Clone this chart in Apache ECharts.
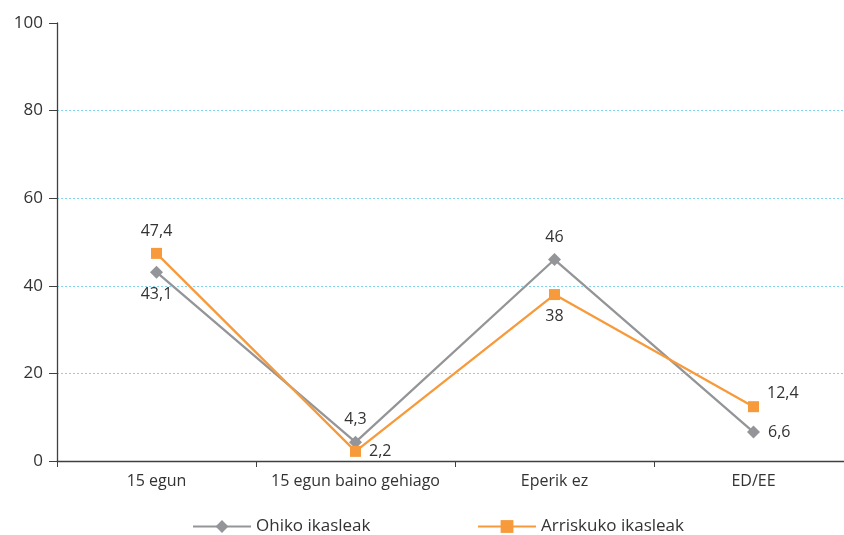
<!DOCTYPE html>
<html>
<head>
<meta charset="utf-8">
<script src="https://cdn.jsdelivr.net/npm/echarts@6/dist/echarts.min.js"></script>
<style>
html,body{margin:0;padding:0;background:#fff;overflow:hidden;}
#chart{width:856px;height:535px;}
</style>
</head>
<body>
<div id="chart"></div>
<script>
// kategoriak eta balioak
var categories = ['15 egun', '15 egun baino gehiago', 'Eperik ez', 'ED/EE'];
var ohikoData = [43.1, 4.3, 46, 6.6];
var arriskuData = [47.4, 2.2, 38, 12.4];
var ohikoPos = ['bottom', 'top', 'top', 'right'];
var arriskuPos = ['top', 'right', 'bottom', 'right'];
var yTicks = [0, 20, 40, 60, 80, 100];

var font = 'Open Sans';
function comma(p){ return String(p.value).replace('.', ','); }

function build(vals, pos, extra){
  return vals.map(function(v, i){
    var lbl = {position: pos[i]};
    if (extra && extra[i]) lbl.offset = extra[i];
    return {value: v, label: lbl};
  });
}

var myChart = echarts.init(document.getElementById('chart'));
myChart.setOption({
  animation: false,
  color: ['#939598', '#f79a3b'],
  textStyle: {fontFamily: font},
  grid: {left: 57, right: 3, top: 23, height: 438, containLabel: false},
  legend: [{
    data: ['Ohiko ikasleak'],
    left: 187, top: 513,
    itemWidth: 58, itemHeight: 16,
    textStyle: {fontFamily: font, fontSize: 17, color: '#333'}
  }, {
    data: ['Arriskuko ikasleak'],
    left: 472, top: 513,
    itemWidth: 58, itemHeight: 16,
    textStyle: {fontFamily: font, fontSize: 17, color: '#333'}
  }],
  xAxis: {
    type: 'category',
    data: categories,
    boundaryGap: true,
    axisLine: {lineStyle: {color: '#404040', width: 1.3}},
    axisTick: {show: true, length: 6, lineStyle: {color: '#404040'}},
    axisLabel: {interval: 0, fontFamily: font, fontSize: 16, color: '#333', margin: 12}
  },
  yAxis: {
    type: 'value',
    min: yTicks[0],
    max: yTicks[yTicks.length - 1],
    interval: 20,
    axisLine: {show: true, lineStyle: {color: '#404040', width: 1.3}},
    axisTick: {show: true, length: 8, lineStyle: {color: '#404040'}},
    axisLabel: {fontFamily: font, fontSize: 17, color: '#333', margin: 14},
    splitLine: {show: true, showMinLine: false, showMaxLine: false,
      lineStyle: {color: '#7fd3f0', type: [2, 2], width: 1}}
  },
  series: [{
    name: 'Ohiko ikasleak',
    type: 'line',
    data: build(ohikoData, ohikoPos),
    symbol: 'diamond',
    symbolSize: 13,
    lineStyle: {width: 2.3},
    label: {show: true, formatter: comma, fontFamily: font, fontSize: 16, color: '#333', distance: 8}
  }, {
    name: 'Arriskuko ikasleak',
    type: 'line',
    data: build(arriskuData, arriskuPos, [null, null, null, [0, -13]]),
    symbol: 'rect',
    symbolSize: 11,
    lineStyle: {width: 2.3},
    label: {show: true, formatter: comma, fontFamily: font, fontSize: 16, color: '#333', distance: 8}
  }]
});
</script>
</body>
</html>
